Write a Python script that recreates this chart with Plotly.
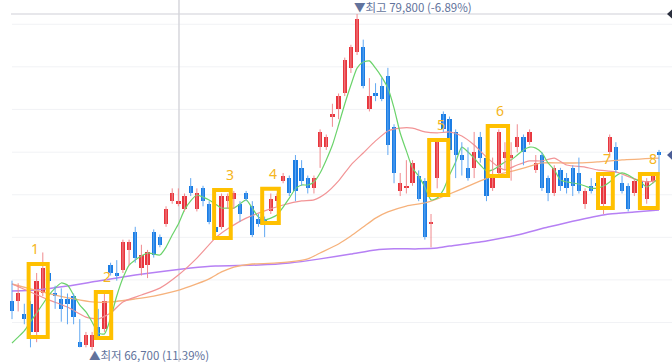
import plotly.graph_objects as go

# ---- candle data (KRW) ----
opens = [68600, 68600, 68100, 68500, 67400, 68900, 69700, 68900, 68700, 68700,
         68800, 67000, 66900, 66800, 67600, 67500, 70000, 69700, 69800, 70600,
         71300, 69900, 70000, 71300, 71100, 71600, 72500, 72400, 72200, 73100,
         72200, 73000, 72400, 71500, 71500, 72500, 72600, 72400, 72800, 72300,
         71800, 71800, 72100, 72500, 73300, 73400, 74100, 73800, 73400, 73000,
         74600, 74600, 75800, 76100, 76700, 77700, 78300, 78500, 76100, 76700,
         77000, 77400, 75400, 72900, 73000, 73200, 73500, 73300, 71600, 73400,
         75900, 75700, 75200, 74300, 73800, 73800, 75000, 74200, 73000, 73600,
         74200, 74200, 74600, 75000, 74800, 73700, 74300, 73400, 72800, 73700,
         73400, 73800, 73600, 72400, 73100, 73200, 72400, 74400, 74600, 73200,
         73100, 72800, 73300, 72600, 73300, 74400]
highs = [69400, 69300, 68500, 68600, 69700, 70500, 69800, 69200, 69100, 68900,
         68900, 67900, 67400, 67400, 68300, 68900, 70100, 70200, 71000, 71000,
         71500, 70800, 70600, 71400, 71200, 72300, 73000, 73000, 72800, 73400,
         73000, 73100, 72500, 72000, 72800, 72800, 72900, 72500, 72900, 72500,
         72000, 71900, 72800, 72800, 73600, 73500, 74300, 74100, 73500, 73500,
         75300, 75100, 76300, 76700, 78100, 78600, 79800, 78800, 77300, 77100,
         77300, 77700, 75500, 73600, 74100, 74100, 73700, 73400, 72000, 74900,
         76000, 75800, 75300, 74800, 74600, 75200, 75200, 74300, 74200, 75300,
         74800, 74800, 75500, 75100, 75300, 74300, 74400, 73500, 73900, 73800,
         73600, 73900, 74200, 73000, 73400, 73300, 73500, 75100, 74800, 73500,
         73200, 73400, 73400, 73400, 73600, 74500]
lows = [67900, 68200, 67700, 66800, 67000, 68800, 69300, 68300, 67800, 67700,
        67700, 66800, 66800, 66700, 67100, 67400, 69600, 69400, 69700, 70000,
        70100, 69600, 69500, 70300, 70700, 71500, 72400, 72300, 72100, 72700,
        72100, 72300, 71600, 71200, 71400, 72200, 72200, 71700, 72500, 71100,
        71500, 71100, 72000, 72300, 73200, 72700, 72500, 73100, 72800, 72800,
        73800, 74500, 75400, 75700, 76600, 77500, 78200, 76900, 76000, 76400,
        76400, 74300, 73200, 72700, 72800, 73100, 72500, 71000, 70700, 73000,
        75200, 74300, 73400, 73500, 73300, 73400, 74000, 72500, 72900, 73500,
        73700, 73300, 74400, 73900, 74700, 73600, 72900, 72500, 72700, 72900,
        72800, 72700, 72800, 72200, 72800, 72900, 72000, 74200, 73600, 72800,
        72100, 72700, 72900, 72400, 73200, 73500]
closes = [68200, 68900, 67900, 67400, 69400, 69900, 69400, 68800, 68300, 68500,
          68000, 66800, 67300, 67300, 67200, 68600, 69700, 69600, 70900, 70900,
          70300, 70400, 70500, 70400, 70800, 72200, 72800, 72500, 72700, 72800,
          72800, 72500, 71700, 71300, 72700, 72700, 72800, 72000, 72600, 71200,
          71600, 71600, 72600, 72700, 73500, 72800, 72900, 73300, 73000, 73400,
          75200, 75000, 75900, 76600, 78000, 78500, 79600, 77000, 76600, 76600,
          76500, 74700, 73600, 73200, 73100, 74000, 72600, 71100, 71700, 74800,
          75300, 74500, 74300, 74100, 73400, 74400, 74200, 72700, 73400, 75200,
          74400, 74300, 75000, 74400, 75200, 74000, 73000, 72800, 73800, 73100,
          73000, 73100, 72900, 72900, 72900, 73100, 73400, 75000, 73700, 72900,
          72200, 73300, 73000, 73300, 73500, 74300]

# ---- moving averages (candle index, price) ----
ma5_idx = list(range(106))
ma5_val = [66970, 67200, 67440, 67790, 68140, 68490, 68840, 69110, 69310, 69230,
           68840, 68450, 68180, 67790, 67360, 67320, 67940, 68800, 69500, 70010,
           70210, 70360, 70480, 70440, 70400, 70710, 71180, 71610, 72160, 72510,
           72740, 72660, 72550, 72390, 72230, 72230, 72230, 72390, 72550, 72230,
           71880, 71770, 71840, 71960, 72270, 72620, 72980, 73130, 73130, 73250,
           73600, 74110, 74690, 75470, 76290, 77030, 77690, 77930, 77970, 77690,
           77340, 76910, 76130, 75160, 74460, 73790, 73480, 73050, 72550, 72620,
           72940, 73520, 74030, 74610, 74420, 74180, 73910, 73680, 73720, 73870,
           74030, 74110, 74300, 74500, 74610, 74570, 74380, 73990, 73720, 73330,
           73250, 73210, 73170, 73090, 73010, 73010, 73090, 73250, 73480, 73600,
           73520, 73370, 73250, 73050, 73210, 73400]
ma20_idx = [0, 3, 6, 9, 12, 14, 16, 18, 21, 24, 27, 30, 33, 35, 38, 41, 44, 47,
            49, 51, 53, 55, 57, 59, 61, 63, 65, 67, 69, 71, 73, 75, 77, 79, 80,
            82, 84, 86, 88, 90, 93, 95, 98, 101, 103, 105]
ma20_val = [69270, 68960, 68650, 68370, 67980, 67910, 68140, 68570, 68840, 69110,
            69620, 70280, 71060, 71420, 71840, 72120, 72350, 72510, 72550, 72820,
            73290, 73910, 74380, 74850, 75240, 75350, 75350, 75200, 75160, 75200,
            75040, 74690, 74220, 73830, 73720, 73910, 74070, 74070, 74180, 73910,
            73830, 73720, 73640, 73370, 73250, 73330]
ma60_idx = [0, 3, 7, 10, 13, 16, 20, 23, 26, 29, 32, 34, 36, 39, 43, 45, 48, 50,
            53, 55, 57, 59, 61, 64, 67, 69, 71, 73, 76, 78, 80, 83, 86, 89, 92,
            95, 99, 105]
ma60_val = [69270, 69080, 68840, 68690, 68570, 68570, 68690, 68800, 68960, 69190,
            69470, 69740, 69930, 70050, 70090, 70130, 70250, 70480, 70830, 71140,
            71490, 71840, 72080, 72310, 72430, 72590, 72780, 72980, 73290, 73480,
            73600, 73790, 73990, 73990, 73990, 74030, 74110, 74180]
ma120_idx = [0, 4, 9, 14, 20, 25, 29, 33, 40, 45, 50, 55, 59, 62, 66, 69, 71, 77,
             82, 87, 92, 97, 101, 105]
ma120_val = [69000, 69040, 69190, 69390, 69620, 69780, 69890, 69970, 70010, 70090,
             70250, 70440, 70600, 70640, 70640, 70670, 70750, 70950, 71180, 71490,
             71770, 72000, 72080, 72160]

# ---- highlighted patterns ----
box_labels = ["1", "2", "3", "4", "5", "6", "7", "8"]
box_x0 = [2.7, 13.6, 32.8, 40.6, 67.7, 77.2, 95.1, 101.9]
box_x1 = [5.8, 16.1, 35.5, 43.3, 70.8, 80.5, 97.5, 104.8]
box_top = [70050, 68960, 72940, 72980, 74890, 75430, 73560, 73560]
box_bot = [67200, 67160, 71060, 71650, 72740, 73480, 72230, 72230]
label_x = [3.7, 15.4, 35.4, 42.4, 69.6, 79.2, 96.6, 104.0]

grid_prices = [79400, 77740, 76080, 74410, 72750, 71090, 69430, 67770]
divider_idx = 27.1

RED, BLUE = "#e8353d", "#1b7de4"
RED_W, BLUE_W = "#f08a8e", "#62a8f2"

n = len(opens)
idx = list(range(n))
up = [closes[i] >= opens[i] for i in idx]

fig = go.Figure()

# moving averages (under candles)
for xs, ys, col, w in [(ma120_idx, ma120_val, "#b680f4", 1.5),
                       (ma60_idx, ma60_val, "#f6b27c", 1.3),
                       (ma20_idx, ma20_val, "#f29496", 1.2),
                       (ma5_idx, ma5_val, "#6bd36b", 1.2)]:
    fig.add_trace(go.Scatter(x=xs, y=ys, mode="lines",
                             line=dict(color=col, width=w, shape="spline", smoothing=0.6),
                             hoverinfo="skip"))

# wicks
for flag, col in [(True, RED_W), (False, BLUE_W)]:
    wx, wy = [], []
    for i in idx:
        if up[i] == flag:
            wx += [i, i, None]
            wy += [lows[i], highs[i], None]
    fig.add_trace(go.Scatter(x=wx, y=wy, mode="lines", line=dict(color=col, width=1),
                             hoverinfo="skip"))

# bodies
fig.add_trace(go.Bar(
    x=idx,
    base=[min(opens[i], closes[i]) for i in idx],
    y=[max(abs(closes[i] - opens[i]), 40) for i in idx],
    width=0.7,
    marker=dict(color=[RED if u else BLUE for u in up], line=dict(width=0)),
    hoverinfo="skip"))

shapes = []
for g in grid_prices:
    shapes.append(dict(type="line", xref="paper", yref="y", x0=12 / 672, x1=1, y0=g, y1=g,
                       line=dict(color="#f1f2f5", width=1), layer="below"))
hi = max(highs)
lo = min(lows)
hi_i = highs.index(hi)
lo_i = lows.index(lo)
last = closes[-1]
shapes.append(dict(type="line", xref="paper", yref="y", x0=11 / 672, x1=1, y0=hi, y1=hi,
                   line=dict(color="#cfd0d8", width=1.2), layer="below"))
shapes.append(dict(type="line", xref="x", yref="paper", x0=divider_idx, x1=divider_idx,
                   y0=0, y1=1, line=dict(color="#d3d3da", width=1.4), layer="below"))
for i in range(len(box_labels)):
    shapes.append(dict(type="rect", xref="x", yref="y", x0=box_x0[i], x1=box_x1[i],
                       y0=box_bot[i], y1=box_top[i],
                       line=dict(color="#ffc000", width=4), fillcolor="rgba(0,0,0,0)",
                       layer="above"))
# right-edge price tags (cut off)
for yv, col in [(hi, "#2a2f3d"), (last, "#4b5d96")]:
    shapes.append(dict(type="path", xref="paper", yref="y",
                       path=f"M {667/672},{yv} L 1,{yv + 180} L 1,{yv - 180} Z",
                       fillcolor=col, line=dict(width=0), layer="above"))

ann = []
for i, lab in enumerate(box_labels):
    ann.append(dict(x=label_x[i], y=box_top[i], xref="x", yref="y", text=lab,
                    showarrow=False, yanchor="bottom", yshift=4,
                    font=dict(family="Noto Sans", size=14, color="#f5b520")))
ann.append(dict(x=hi_i, y=1 - 6.5 / 362, xref="x", yref="paper", xanchor="left", yanchor="middle",
                xshift=-5, showarrow=False,
                text=f"▼최고 {hi:,} ({(last / hi - 1) * 100:.2f}%)",
                font=dict(family="Noto Sans CJK KR", size=11.5, color="#62739c")))
ann.append(dict(x=lo_i, y=1 - 355 / 362, xref="x", yref="paper", xanchor="left", yanchor="middle",
                xshift=-5, showarrow=False,
                text=f"▲최저 {lo:,} ({(last / lo - 1) * 100:.2f}%)",
                font=dict(family="Noto Sans CJK KR", size=11.5, color="#62739c")))

fig.update_layout(
    width=672, height=362, margin=dict(l=0, r=0, t=0, b=0),
    paper_bgcolor="white", plot_bgcolor="white", showlegend=False,
    bargap=0, barmode="overlay",
    xaxis=dict(range=[-1.947, 107.108], visible=False),
    yaxis=dict(range=[66228, 80346], visible=False),
    shapes=shapes, annotations=ann,
)

fig.write_html("out.html", config={"displayModeBar": False},
               post_script="document.body.style.margin='0';document.body.style.overflow='hidden';")
